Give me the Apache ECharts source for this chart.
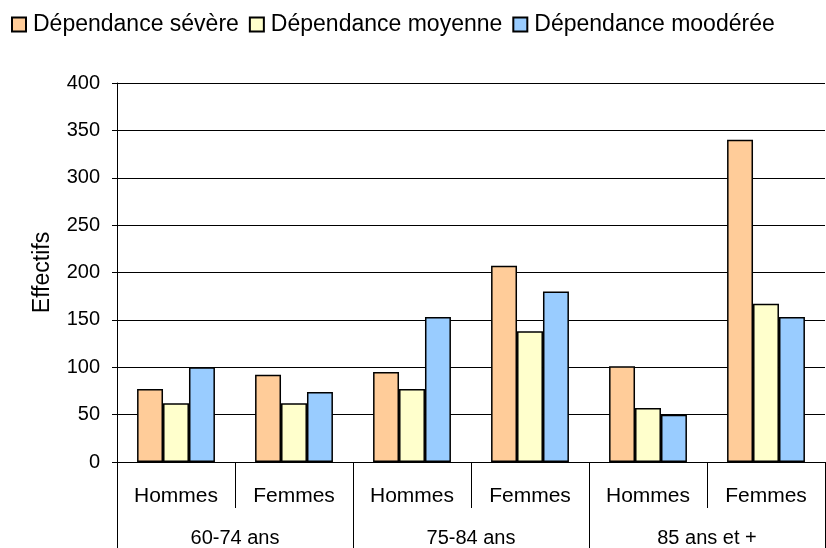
<!DOCTYPE html>
<html>
<head>
<meta charset="utf-8">
<script src="https://cdn.jsdelivr.net/npm/echarts@6/dist/echarts.min.js"></script>
<style>
html,body{margin:0;padding:0;background:#fff;}
#chart{width:826px;height:548px;}
</style>
</head>
<body>
<div id="chart"></div>
<script>
const sexCategories = ['Hommes', 'Femmes', 'Hommes', 'Femmes', 'Hommes', 'Femmes'];
const ageGroups = ['60-74 ans', '75-84 ans', '85 ans et +'];
const seriesNames = ['Dépendance sévère', 'Dépendance moyenne', 'Dépendance moodérée'];
const severe = [77, 92, 95, 207, 101, 340];
const moyenne = [62, 62, 77, 138, 57, 167];
const moderee = [100, 74, 153, 180, 50, 153];
const yTicks = [0, 50, 100, 150, 200, 250, 300, 350, 400];

const colors = ['#FFCC99', '#FFFFCC', '#99CCFF'];
const font = 'Liberation Sans, Arial, sans-serif';
const chart = echarts.init(document.getElementById('chart'));
const values = [severe, moyenne, moderee];

chart.setOption({
  animation: false,
  textStyle: { fontFamily: font, color: '#000' },
  legend: {
    left: 6, top: 8,
    itemWidth: 14, itemHeight: 14, itemGap: 10,
    icon: 'rect',
    textStyle: { fontSize: 23, color: '#000', fontFamily: font, padding: [0, 0, 0, 2] },
    data: seriesNames
  },
  grid: { left: 117, right: 1, top: 83, bottom: 86, containLabel: false },
  xAxis: [
    {
      type: 'category',
      data: sexCategories,
      position: 'bottom',
      axisLine: { lineStyle: { color: '#000', width: 1 } },
      axisTick: { show: true, interval: 0, length: 46, lineStyle: { color: '#000' } },
      axisLabel: { interval: 0, margin: 24, fontSize: 21, color: '#000', fontFamily: font }
    },
    {
      type: 'category',
      data: ageGroups,
      position: 'bottom',
      axisLine: { show: false },
      axisTick: { show: true, interval: 0, length: 86, lineStyle: { color: '#000' } },
      axisLabel: { interval: 0, margin: 66, fontSize: 20, color: '#000', fontFamily: font }
    }
  ],
  yAxis: {
    type: 'value',
    min: yTicks[0], max: yTicks[yTicks.length - 1], interval: 50,
    name: 'Effectifs',
    nameLocation: 'middle',
    nameRotate: 90,
    nameGap: 63,
    nameTextStyle: { fontSize: 23, color: '#000', fontFamily: font },
    axisLine: { show: true, lineStyle: { color: '#000' } },
    axisTick: { show: true, length: 5, lineStyle: { color: '#000' } },
    axisLabel: { margin: 17, fontSize: 20, color: '#000', fontFamily: font },
    splitLine: { lineStyle: { color: '#000', width: 1 } }
  },
  series: seriesNames.map((n, i) => ({
    name: n,
    type: 'bar',
    xAxisIndex: 0,
    data: values[i],
    barGap: '0%',
    barCategoryGap: '34%',
    itemStyle: { color: colors[i], borderColor: '#000', borderWidth: 1.5 }
  }))
});
</script>
</body>
</html>
